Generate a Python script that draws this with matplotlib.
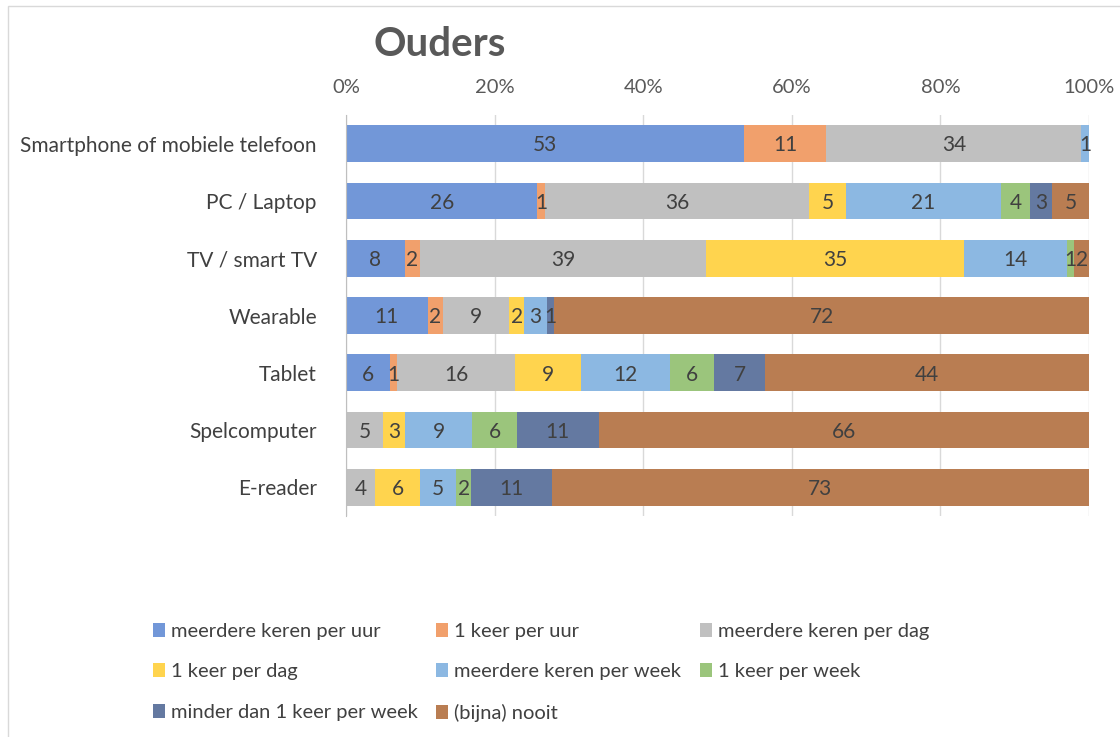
import matplotlib
matplotlib.use("Agg")
import matplotlib.pyplot as plt
import numpy as np
from matplotlib.patches import Rectangle

categories = ["Smartphone of mobiele telefoon", "PC / Laptop", "TV / smart TV",
              "Wearable", "Tablet", "Spelcomputer", "E-reader"]
series = ["meerdere keren per uur", "1 keer per uur", "meerdere keren per dag",
          "1 keer per dag", "meerdere keren per week", "1 keer per week",
          "minder dan 1 keer per week", "(bijna) nooit"]
# values per category, in series order
smartphone = [53, 11, 34, 0, 1, 0, 0, 0]
pc_laptop = [26, 1, 36, 5, 21, 4, 3, 5]
tv = [8, 2, 39, 35, 14, 1, 0, 2]
wearable = [11, 2, 9, 2, 3, 0, 1, 72]
tablet = [6, 1, 16, 9, 12, 6, 7, 44]
spelcomputer = [0, 0, 5, 3, 9, 6, 11, 66]
ereader = [0, 0, 4, 6, 5, 2, 11, 73]
colors = ["#7297D8", "#F1A06C", "#C0C0C0", "#FFD44E", "#8CB8E2", "#9BC57C", "#6479A1", "#B97D52"]
xticks = [0, 20, 40, 60, 80, 100]

data = np.array([smartphone, pc_laptop, tv, wearable, tablet, spelcomputer, ereader], dtype=float)
pct = data / data.sum(axis=1, keepdims=True) * 100

plt.rcParams['font.family'] = ['Lato', 'DejaVu Sans']
fig = plt.figure(figsize=(11.2, 7.37), dpi=100)
ax = fig.add_axes([346/1120, 1-516/737, (1089-346)/1120, (516-115)/737])

y = np.arange(len(categories))
left = np.zeros(len(categories))
txt = "#404040"
for j, s in enumerate(series):
    ax.barh(y, pct[:, j], left=left, height=0.64, color=colors[j], label=s, zorder=2)
    for i in range(len(categories)):
        v = data[i, j]
        if v > 0:
            ax.text(left[i] + pct[i, j]/2, y[i] + 0.03, f"{int(v)}", ha="center", va="center",
                    fontsize=15, color=txt, zorder=3)
    left += pct[:, j]

ax.set_xlim(0, 100)
ax.set_ylim(len(categories)-0.5, -0.5)
ax.set_yticks(y)
ax.set_yticklabels(categories, fontsize=15, color=txt)
ax.set_xticks(xticks)
ax.set_xticklabels([f"{t}%" for t in xticks], fontsize=14.5, color="#595959")
ax.xaxis.tick_top()
ax.tick_params(axis='both', length=0)
ax.tick_params(axis='x', pad=14)
ax.tick_params(axis='y', pad=21)
ax.grid(axis='x', color="#D9D9D9", linewidth=1, zorder=0)
for sp in ["top", "right", "bottom"]:
    ax.spines[sp].set_visible(False)
ax.spines["left"].set_color("#BFBFBF")

fig.text(440/1120, 1-44/737, "Ouders", fontsize=29, fontweight="bold", color="#595959",
         ha="center", va="center")

handles, labels = ax.get_legend_handles_labels()
order = [0, 3, 6, 1, 4, 7, 2, 5]
leg = fig.legend([handles[k] for k in order], [labels[k] for k in order], ncol=3,
                 loc="upper left", bbox_to_anchor=(135/1120, 1-605/737), frameon=False,
                 fontsize=14.5, handlelength=0.6, handleheight=0.7, handletextpad=0.3,
                 columnspacing=0.9, labelspacing=1.15, labelcolor=txt)

fig.add_artist(Rectangle((8/1120, -0.01), 1.2, 1-6/737+0.01, transform=fig.transFigure,
                         fill=False, edgecolor="#D9D9D9", linewidth=1))
fig.savefig("out.png", dpi=100)
